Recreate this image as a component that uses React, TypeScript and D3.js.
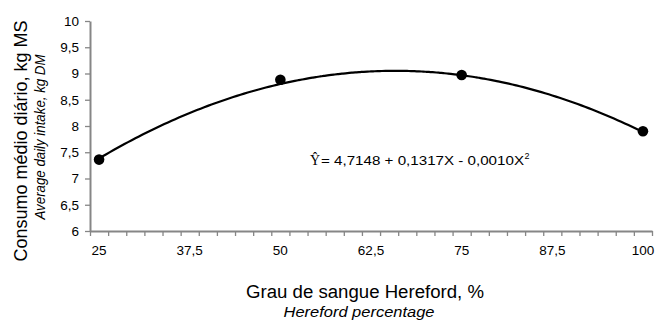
import * as d3 from "d3";
import { useEffect, useRef } from "react";

const groups = [25, 50, 75, 100];
const intake = [7.36, 8.88, 8.97, 7.9];
const coef = [4.7148, 0.1317, -0.001];
const xLabels = [25, 37.5, 50, 62.5, 75, 87.5, 100];
const yTicks = [6, 6.5, 7, 7.5, 8, 8.5, 9, 9.5, 10];

const fmt = (v: number) => String(v).replace(".", ",");

export default function App() {
  const ref = useRef<SVGSVGElement>(null);

  useEffect(() => {
    const svg = d3.select(ref.current);
    svg.selectAll("*").remove();

    const width = 655;
    const height = 323;
    const font = "Liberation Sans, Arial, sans-serif";

    // category axis: 31 slots of 2.5 from 25 to 100
    const x = d3.scaleLinear().domain([23.75, 101.25]).range([90, 652]);
    const y = d3.scaleLinear().domain([6, 10]).range([231, 21]);

    svg.attr("width", width).attr("height", height);
    svg.append("rect").attr("width", width).attr("height", height).attr("fill", "#fff");

    const axisColor = "#868686";

    // y axis
    const yAxis = svg
      .append("g")
      .attr("transform", `translate(${x.range()[0]},0)`)
      .call(d3.axisLeft(y).tickValues(yTicks).tickSize(5).tickSizeOuter(0).tickFormat(d => fmt(+d)));
    yAxis.select(".domain").attr("stroke", axisColor).attr("stroke-width", 2);
    yAxis.selectAll(".tick line").attr("stroke", axisColor).attr("stroke-width", 1.3);
    yAxis
      .selectAll(".tick text")
      .attr("x", -11)
      .attr("fill", "#000")
      .style("font-family", font)
      .style("font-size", "13.5px");

    // x axis ticks between categories
    const boundaries = d3.range(0, 32).map(i => 23.75 + i * 2.5);
    const xAxis = svg
      .append("g")
      .attr("transform", `translate(0,${y(6)})`)
      .call(d3.axisBottom(x).tickValues(boundaries).tickSize(5).tickSizeOuter(0).tickFormat(() => ""));
    xAxis.select(".domain").attr("stroke", axisColor).attr("stroke-width", 2);
    xAxis.selectAll(".tick line").attr("stroke", axisColor).attr("stroke-width", 1.3);

    svg
      .append("g")
      .selectAll("text")
      .data(xLabels)
      .enter()
      .append("text")
      .attr("x", d => x(d))
      .attr("y", 255)
      .attr("text-anchor", "middle")
      .style("font-family", font)
      .style("font-size", "13.5px")
      .text(d => fmt(d));

    // fitted curve
    const curveX = d3.range(25, 100.01, 0.5);
    const line = d3
      .line<number>()
      .x(d => x(d))
      .y(d => y(coef[0] + coef[1] * d + coef[2] * d * d))
      .curve(d3.curveMonotoneX);
    svg
      .append("path")
      .datum(curveX)
      .attr("d", line)
      .attr("fill", "none")
      .attr("stroke", "#000")
      .attr("stroke-width", 2.2);

    // observed points
    svg
      .append("g")
      .selectAll("circle")
      .data(groups)
      .enter()
      .append("circle")
      .attr("cx", d => x(d))
      .attr("cy", (d, i) => y(intake[i]))
      .attr("r", 5.3)
      .attr("fill", "#000");

    // equation
    svg
      .append("text")
      .attr("x", 310)
      .attr("y", 165)
      .style("font-family", "Liberation Serif, Times New Roman, serif")
      .style("font-size", "14px")
      .text("Ŷ");
    svg
      .append("text")
      .attr("x", 321)
      .attr("y", 165)
      .attr("textLength", 203)
      .attr("lengthAdjust", "spacingAndGlyphs")
      .style("font-family", font)
      .style("font-size", "13.5px")
      .text("= 4,7148 + 0,1317X - 0,0010X");
    svg
      .append("text")
      .attr("x", 524.5)
      .attr("y", 159)
      .style("font-family", font)
      .style("font-size", "9px")
      .text("2");

    // axis titles
    svg
      .append("text")
      .attr("transform", "rotate(-90)")
      .attr("x", -141)
      .attr("y", 27)
      .attr("text-anchor", "middle")
      .style("font-family", font)
      .style("font-size", "18px")
      .text("Consumo médio diário, kg MS");

    svg
      .append("text")
      .attr("transform", "rotate(-90)")
      .attr("x", -137)
      .attr("y", 45)
      .attr("text-anchor", "middle")
      .attr("textLength", 165)
      .attr("lengthAdjust", "spacingAndGlyphs")
      .style("font-family", font)
      .style("font-size", "14px")
      .style("font-style", "italic")
      .text("Average daily intake, kg DM");

    svg
      .append("text")
      .attr("x", 365)
      .attr("y", 298)
      .attr("text-anchor", "middle")
      .attr("textLength", 238)
      .attr("lengthAdjust", "spacingAndGlyphs")
      .style("font-family", font)
      .style("font-size", "18px")
      .text("Grau de sangue Hereford, %");

    svg
      .append("text")
      .attr("x", 359)
      .attr("y", 317)
      .attr("text-anchor", "middle")
      .attr("textLength", 151)
      .attr("lengthAdjust", "spacingAndGlyphs")
      .style("font-family", font)
      .style("font-size", "14px")
      .style("font-style", "italic")
      .text("Hereford percentage");
  }, []);

  return (
    <div style={{ position: "absolute", left: 0, top: 0 }}>
      <svg ref={ref} style={{ display: "block" }} />
    </div>
  );
}
